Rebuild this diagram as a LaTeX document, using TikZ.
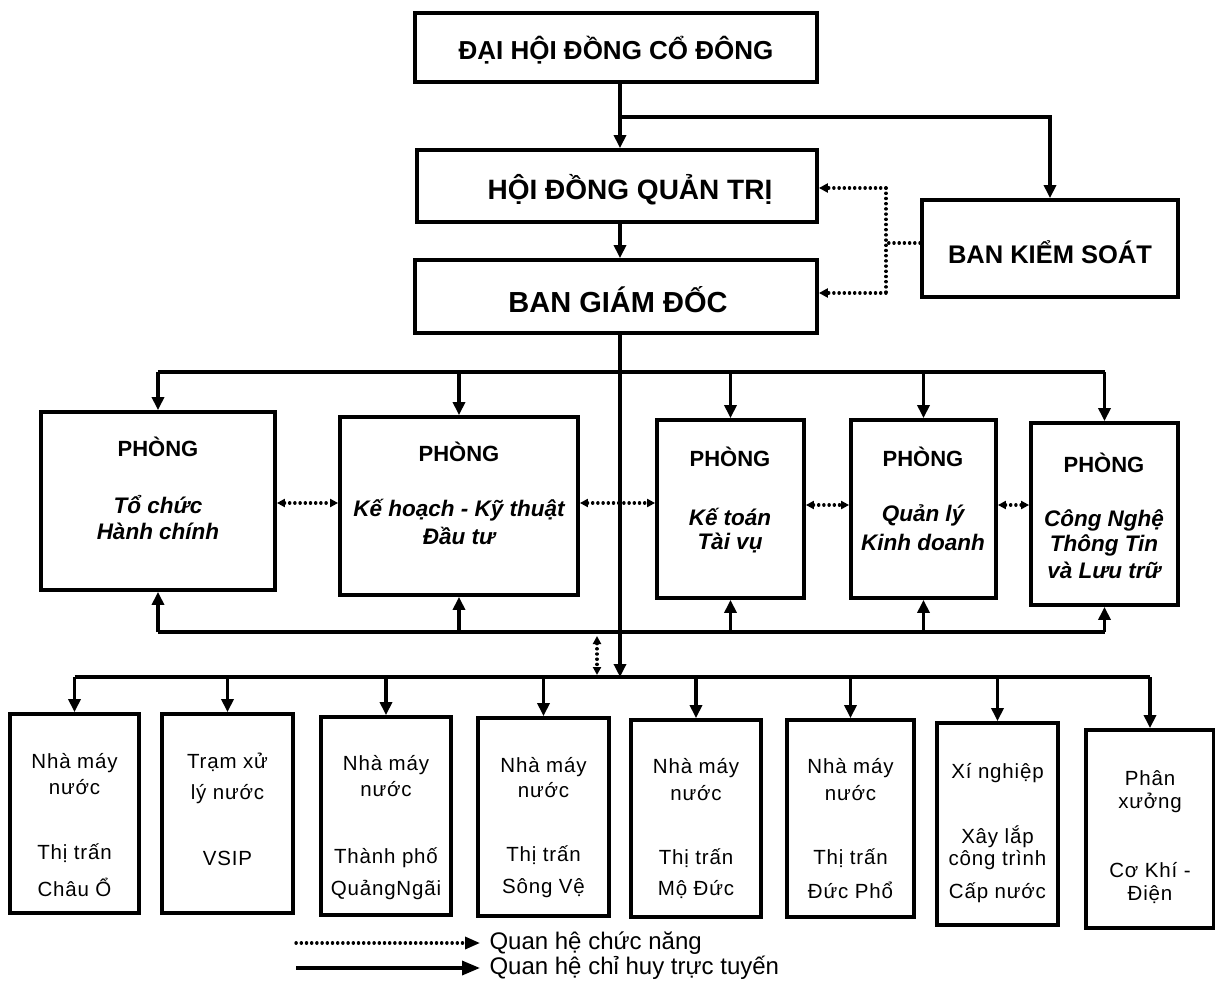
\documentclass[tikz,border=0pt]{standalone}
\usepackage{fontspec}
\setmainfont{Liberation Sans}
\newfontfamily\unitfont[LetterSpace=4]{Liberation Sans}
\usetikzlibrary{arrows.meta}
\begin{document}
\begin{tikzpicture}[x=1pt,y=-1pt,
  box/.style={draw,line width=3.8pt,inner sep=0pt},
  line/.style={line width=3.4pt},
  arr/.style={line,-{Triangle[length=13pt,width=12pt]}},
  fn/.style={line width=3.3pt,line cap=round,dash pattern=on 0.2pt off 5pt},
  fnarr/.style={fn,-{Triangle[length=9pt,width=9pt]}},
  fnboth/.style={fn,{Triangle[length=8pt,width=8pt]}-{Triangle[length=8pt,width=8pt]}},
  big/.style={font=\fontsize{26}{30}\selectfont\bfseries},
  ph/.style={font=\fontsize{22}{26}\selectfont\bfseries},
  it/.style={font=\fontsize{22.5}{26}\selectfont\bfseries\itshape},
  un/.style={font=\unitfont\fontsize{20.5}{24}\selectfont},
  lg/.style={font=\fontsize{24}{28}\selectfont}
]
\useasboundingbox (0,0) rectangle (1215,992);
\fill[white] (0,0) rectangle (1215,992);

% top boxes
\node[box,minimum width=402pt,minimum height=69pt] (dh) at (616,47.5) {};
\node[big] (tdh) at (616,50) {ĐẠI HỘI ĐỒNG CỔ ĐÔNG};
\node[box,minimum width=400pt,minimum height=72pt] (hd) at (617,186) {};
\node[big,font=\fontsize{28}{32}\selectfont\bfseries] (thd) at (630,190) {HỘI ĐỒNG QUẢN TRỊ};
\node[box,minimum width=402pt,minimum height=73pt] (bgd) at (616,296.5) {};
\node[big,font=\fontsize{29}{32}\selectfont\bfseries] (tbgd) at (618,300) {BAN GIÁM ĐỐC};
\node[box,minimum width=256pt,minimum height=97pt] (bks) at (1050,248.5) {};
\node[big,font=\fontsize{25.5}{28}\selectfont\bfseries] (tbks) at (1050,252) {BAN KIỂM SOÁT};

% departments
\node[box,minimum width=234pt,minimum height=178pt] (p1) at (158,501) {};
\node[box,minimum width=238pt,minimum height=178pt] (p2) at (459,506) {};
\node[box,minimum width=147pt,minimum height=178pt] (p3) at (730.5,509) {};
\node[box,minimum width=145pt,minimum height=178pt] (p4) at (923.5,509) {};
\node[box,minimum width=147pt,minimum height=182pt] (p5) at (1104.5,514) {};

\node[ph] (p1a) at (158,447) {PHÒNG};
\node[it] (p1b) at (158,505) {Tổ chức};
\node[it] (p1c) at (158,531) {Hành chính};
\node[ph] (p2a) at (459,452) {PHÒNG};
\node[it] (p2b) at (459,510) {Kế hoạch - Kỹ thuật};
\node[it] (p2c) at (459,536) {Đầu tư};
\node[ph] (p3a) at (730,457) {PHÒNG};
\node[it] (p3b) at (730,517) {Kế toán};
\node[it] (p3c) at (730,543) {Tài vụ};
\node[ph] (p4a) at (923,457) {PHÒNG};
\node[it] (p4b) at (923,515) {Quản lý};
\node[it] (p4c) at (923,542) {Kinh doanh};
\node[ph] (p5a) at (1104,463) {PHÒNG};
\node[it] (p5b) at (1104,520) {Công Nghệ};
\node[it] (p5c) at (1104,545) {Thông Tin};
\node[it] (p5d) at (1104,570) {và Lưu trữ};

% units
\node[box,minimum width=129pt,minimum height=199pt] (u1) at (74.5,813.5) {};
\node[box,minimum width=131pt,minimum height=199pt] (u2) at (227.5,813.5) {};
\node[box,minimum width=130pt,minimum height=198pt] (u3) at (386,816) {};
\node[box,minimum width=131pt,minimum height=198pt] (u4) at (543.5,817) {};
\node[box,minimum width=130pt,minimum height=197pt] (u5) at (696,818.5) {};
\node[box,minimum width=127pt,minimum height=197pt] (u6) at (850.5,818.5) {};
\node[box,minimum width=121pt,minimum height=202pt] (u7) at (997.5,824) {};
\node[box,minimum width=128pt,minimum height=198pt] (u8) at (1150,829) {};

\node[un] (u1a) at (74.5,763) {Nhà máy};
\node[un] (u1b) at (74.5,787) {nước};
\node[un] (u1c) at (74.5,853) {Thị trấn};
\node[un] (u1d) at (74.5,887) {Châu Ổ};
\node[un] (u2a) at (227.5,762) {Trạm xử};
\node[un] (u2b) at (227.5,794) {lý nước};
\node[un] (u2c) at (227.5,858) {VSIP};
\node[un] (u3a) at (386,765) {Nhà máy};
\node[un] (u3b) at (386,789) {nước};
\node[un] (u3c) at (386,858) {Thành phố};
\node[un] (u3d) at (386,890) {QuảngNgãi};
\node[un] (u4a) at (543.5,767) {Nhà máy};
\node[un] (u4b) at (543.5,790) {nước};
\node[un] (u4c) at (543.5,855) {Thị trấn};
\node[un] (u4d) at (543.5,888) {Sông Vệ};
\node[un] (u5a) at (696,768) {Nhà máy};
\node[un] (u5b) at (696,793) {nước};
\node[un] (u5c) at (696,858) {Thị trấn};
\node[un] (u5d) at (696,890) {Mộ Đức};
\node[un] (u6a) at (850.5,768) {Nhà máy};
\node[un] (u6b) at (850.5,793) {nước};
\node[un] (u6c) at (850.5,858) {Thị trấn};
\node[un] (u6d) at (850.5,890) {Đức Phổ};
\node[un] (u7a) at (997.5,773) {Xí nghiệp};
\node[un] (u7b) at (997.5,837) {Xây lắp};
\node[un] (u7c) at (997.5,860) {công trình};
\node[un] (u7d) at (997.5,893) {Cấp nước};
\node[un] (u8a) at (1150,778) {Phân};
\node[un] (u8b) at (1150,803) {xưởng};
\node[un] (u8c) at (1150,870) {Cơ Khí -};
\node[un] (u8d) at (1150,895) {Điện};

% coordinates
\coordinate (j1) at (620,117);
\coordinate (d1) at (886,188);
\coordinate (d2) at (886,293);
\coordinate (tb) at (620,372);
\coordinate (bb) at (620,632);
\coordinate (ub) at (620,677);
\coordinate (da) at (597,636);
\coordinate (db) at (597,675);

% top connectors
\draw[arr] (dh.south -| j1) -- (hd.north -| j1);
\draw[arr] (j1) -| (bks.north);
\draw[arr] (hd.south -| j1) -- (bgd.north -| j1);
\draw[fn] (bks.west |- 0,243) -- (886,243);
\draw[fn] (d1) -- (d2);
\draw[fnarr] (d1) -- (hd.east |- d1);
\draw[fnarr] (d2) -- (bgd.east |- d2);

% main vertical
\draw[arr] (bgd.south -| j1) -- (ub);

% department buses
\draw[line] (p1.north |- tb) -- (p5.north |- tb);
\foreach \p in {p1,p2,p3,p4,p5}{
  \draw[arr] (\p.north |- tb) -- (\p.north);
  \draw[arr] (\p.south |- bb) -- (\p.south);
}
\draw[line] (p1.south |- bb) -- (p5.south |- bb);

% functional links between departments
\draw[fnboth] (p1.east |- 0,503) -- (p2.west |- 0,503);
\draw[fnboth] (p2.east |- 0,503) -- (p3.west |- 0,503);
\draw[fnboth] (p3.east |- 0,505) -- (p4.west |- 0,505);
\draw[fnboth] (p4.east |- 0,505) -- (p5.west |- 0,505);
\draw[fnboth] (da) -- (db);

% units bus
\draw[line] (u1.north |- ub) -- (u8.north |- ub);
\foreach \u in {u1,u2,u3,u4,u5,u6,u7,u8}{
  \draw[arr] (\u.north |- ub) -- (\u.north);
}

% legend
\coordinate (l1s) at (296,943);
\coordinate (l1e) at (480,943);
\coordinate (l2s) at (296,968);
\coordinate (l2e) at (480,968);
\draw[fn,-{Triangle[length=15pt,width=12pt]}] (l1s) -- (l1e);
\draw[line,-{Triangle[length=18pt,width=14pt]}] (l2s) -- (l2e);
\node[lg,anchor=west] (lt1) at (486,943) {Quan hệ chức năng};
\node[lg,anchor=west] (lt2) at (486,968) {Quan hệ chỉ huy trực tuyến};
\end{tikzpicture}
\end{document}
